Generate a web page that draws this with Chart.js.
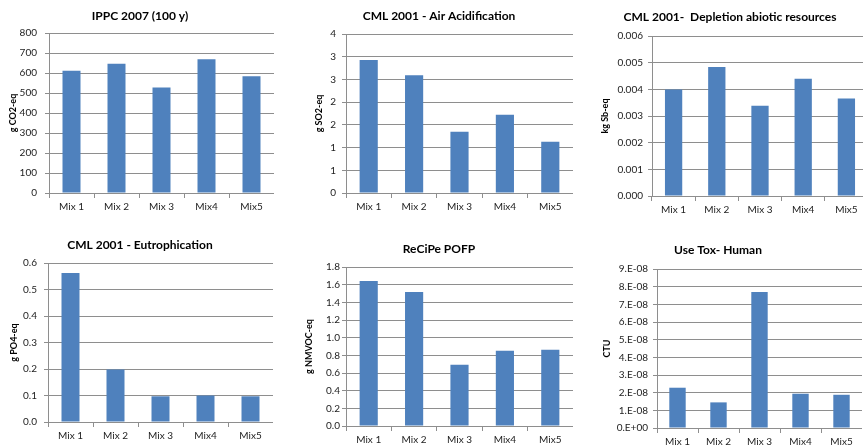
<!DOCTYPE html>
<html>
<head>
<meta charset="utf-8">
<script src="https://cdn.jsdelivr.net/npm/chart.js@4.4.1/dist/chart.umd.min.js"></script>
<style>
  html, body { margin: 0; padding: 0; background: #fff; }
  #page { position: relative; width: 863px; height: 448px; overflow: hidden; background: #fff; }
  #page canvas { position: absolute; }
</style>
</head>
<body>
<div id="page"></div>
<script>
// Impact categories per electricity mix
const categories = ['Mix 1', 'Mix 2', 'Mix 3', 'Mix4', 'Mix5'];

const gwpValues      = [611, 646, 527, 669, 584];
const acidValues     = [2.93, 2.59, 1.35, 1.72, 1.13];
const abioticValues  = [0.00399, 0.00484, 0.00338, 0.00440, 0.00366];
const eutroValues    = [0.562, 0.198, 0.097, 0.100, 0.097];
const pofpValues     = [1.641, 1.517, 0.694, 0.853, 0.864];
const toxValues      = [2.28e-8, 1.45e-8, 7.70e-8, 1.94e-8, 1.88e-8];

// Y tick labels, bottom to top
const gwpTicks     = ['0', '100', '200', '300', '400', '500', '600', '700', '800'];
const acidTicks    = ['0', '1', '1', '2', '2', '3', '3', '4'];
const abioticTicks = ['0.000', '0.001', '0.002', '0.003', '0.004', '0.005', '0.006'];
const eutroTicks   = ['0.0', '0.1', '0.2', '0.3', '0.4', '0.5', '0.6'];
const pofpTicks    = ['0.0', '0.2', '0.4', '0.6', '0.8', '1.0', '1.2', '1.4', '1.6', '1.8'];
const toxTicks     = ['0.E+00', '1.E-08', '2.E-08', '3.E-08', '4.E-08', '5.E-08', '6.E-08', '7.E-08', '8.E-08', '9.E-08'];

const BAR = '#4F81BD';
const GRID = '#8e8e8e';
const FONT = 'Lato';

// panel layout: plot area edges, title centre, axis title x, canvas top/bottom
const panels = [
  { title: 'IPPC 2007 (100 y)', yTitle: 'g CO2-eq', values: gwpValues, ticks: gwpTicks, max: 800, step: 100,
    plot: { left: 49, top: 33, right: 274, bottom: 193 }, titleX: 140, titleY: 16, axisX: 13, tickPad: 8, top: 0, bottom: 224 },
  { title: 'CML 2001 - Air Acidification', yTitle: 'g SO2-eq', values: acidValues, ticks: acidTicks, max: 3.5, step: 0.5,
    plot: { left: 346, top: 34, right: 573, bottom: 193 }, titleX: 439, titleY: 16, axisX: 319, tickPad: 6, top: 0, bottom: 224 },
  { title: 'CML 2001-  Depletion abiotic resources', yTitle: 'kg Sb-eq', values: abioticValues, ticks: abioticTicks, max: 0.006, step: 0.001,
    plot: { left: 652, top: 36, right: 868, bottom: 196 }, titleX: 730, titleY: 17, axisX: 605, tickPad: 5, top: 0, bottom: 224 },
  { title: 'CML 2001 - Eutrophication', yTitle: 'g PO4-eq', values: eutroValues, ticks: eutroTicks, max: 0.6, step: 0.1,
    plot: { left: 48, top: 263, right: 273, bottom: 422 }, titleX: 140, titleY: 245, axisX: 14, tickPad: 7, top: 224, bottom: 460 },
  { title: 'ReCiPe POFP', yTitle: 'g NMVOC-eq', values: pofpValues, ticks: pofpTicks, max: 1.8, step: 0.2,
    plot: { left: 346, top: 267, right: 573, bottom: 426 }, titleX: 439, titleY: 249, axisX: 309, tickPad: 2, top: 224, bottom: 460 },
  { title: 'Use Tox- Human', yTitle: 'CTU', values: toxValues, ticks: toxTicks, max: 9e-8, step: 1e-8,
    plot: { left: 657, top: 269, right: 862, bottom: 428 }, titleX: 718, titleY: 250, axisX: 607, tickPad: 5, top: 224, bottom: 460 }
];

const page = document.getElementById('page');

function makeChart(p) {
  const left = 2 * p.titleX - p.plot.right;
  const width = p.plot.right - left;
  const height = p.bottom - p.top;
  const canvas = document.createElement('canvas');
  canvas.width = width;
  canvas.height = height;
  canvas.style.left = left + 'px';
  canvas.style.top = p.top + 'px';
  canvas.style.width = width + 'px';
  canvas.style.height = height + 'px';
  page.appendChild(canvas);

  return new Chart(canvas.getContext('2d'), {
    type: 'bar',
    data: {
      labels: categories,
      datasets: [{
        data: p.values,
        backgroundColor: BAR,
        barPercentage: 0.4,
        categoryPercentage: 1
      }]
    },
    options: {
      responsive: false,
      animation: false,
      devicePixelRatio: 1,
      layout: { padding: 0 },
      plugins: {
        legend: { display: false },
        tooltip: { enabled: false },
        title: {
          display: true,
          text: p.title,
          color: '#000',
          font: { family: FONT, size: 12, weight: 'bold', lineHeight: 1.2 },
          padding: { top: p.titleY - p.top - 7.2, bottom: p.plot.top - p.titleY - 7.2 }
        }
      },
      scales: {
        x: {
          grid: { offset: true, drawOnChartArea: false, color: GRID, tickLength: 5 },
          border: { color: GRID },
          ticks: { color: '#222', font: { family: FONT, size: 10 }, padding: 3, maxRotation: 0, autoSkip: false },
          afterFit: s => { s.height = p.bottom - p.plot.bottom; }
        },
        y: {
          min: 0,
          max: p.max,
          grid: { color: GRID, tickLength: 4 },
          border: { color: GRID },
          ticks: {
            stepSize: p.step,
            color: '#222',
            font: { family: FONT, size: 10 },
            padding: p.tickPad,
            callback: (v, i) => p.ticks[i]
          },
          title: {
            display: true,
            text: p.yTitle,
            color: '#000',
            font: { family: FONT, size: 9, weight: 'bold', lineHeight: 1.2 },
            padding: { top: p.axisX - left - 5.4, bottom: 0 }
          },
          afterFit: s => { s.width = p.plot.left - left; }
        }
      }
    }
  });
}

panels.forEach(makeChart);
</script>
</body>
</html>
